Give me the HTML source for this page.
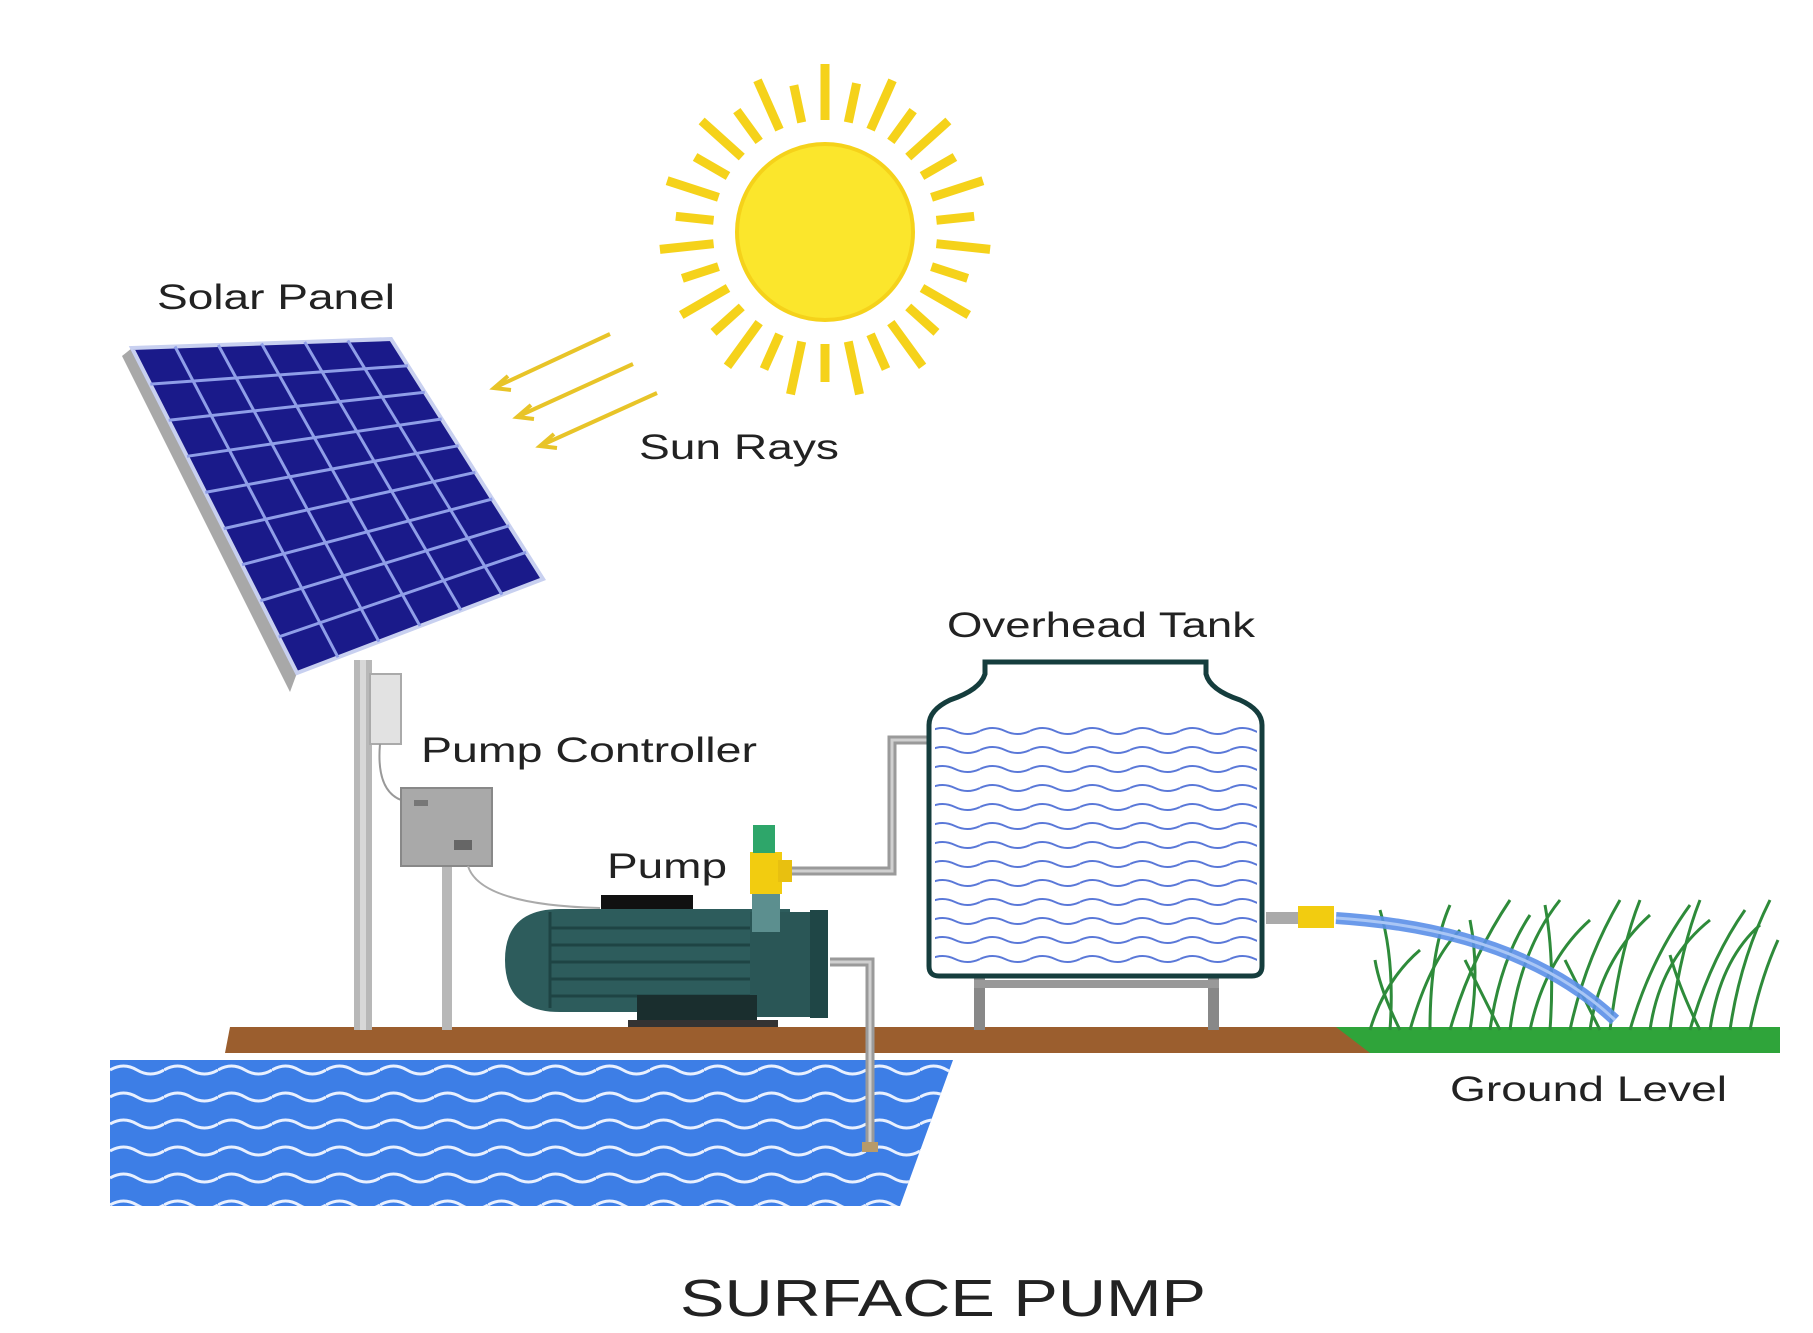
<!DOCTYPE html>
<html><head><meta charset="utf-8"><style>
html,body{margin:0;padding:0;background:#fff}
svg{display:block}
text{font-family:"Liberation Sans",sans-serif;fill:#222}
</style></head><body>
<svg width="1813" height="1333" viewBox="0 0 1813 1333" xmlns="http://www.w3.org/2000/svg">
<defs>
<pattern id="pw" width="54" height="27" patternUnits="userSpaceOnUse" x="110" y="1062">
<path d="M0 8 Q13.5 0 27 8 T54 8" fill="none" stroke="#e8f0ff" stroke-width="3"/>
</pattern>
<pattern id="tw" width="50" height="19" patternUnits="userSpaceOnUse" x="930" y="725">
<path d="M0 6 Q12.5 0 25 6 T50 6" fill="none" stroke="#5a78d8" stroke-width="2"/>
</pattern>
</defs>
<rect width="1813" height="1333" fill="#fff"/>

<!-- Ground -->
<polygon points="230,1027 1380,1027 1380,1053 225,1053" fill="#9b5e2e"/>
<polygon points="1336,1027 1780,1027 1780,1053 1370,1053" fill="#2fa43a"/>

<!-- Pond -->
<polygon points="110,1060 953,1060 900,1206 110,1206" fill="#3d7ee6"/>
<polygon points="110,1060 953,1060 900,1206 110,1206" fill="url(#pw)"/>

<!-- Sun -->
<g stroke="#f5d21a" stroke-width="9" stroke-linecap="butt">
<line x1="825" y1="120" x2="825" y2="64" transform="rotate(0 825 232)"/>
<line x1="825" y1="120" x2="825" y2="80" transform="rotate(12 825 232)"/>
<line x1="825" y1="120" x2="825" y2="66" transform="rotate(24 825 232)"/>
<line x1="825" y1="120" x2="825" y2="82" transform="rotate(36 825 232)"/>
<line x1="825" y1="120" x2="825" y2="66" transform="rotate(48 825 232)"/>
<line x1="825" y1="120" x2="825" y2="82" transform="rotate(60 825 232)"/>
<line x1="825" y1="120" x2="825" y2="66" transform="rotate(72 825 232)"/>
<line x1="825" y1="120" x2="825" y2="82" transform="rotate(84 825 232)"/>
<line x1="825" y1="120" x2="825" y2="66" transform="rotate(96 825 232)"/>
<line x1="825" y1="120" x2="825" y2="82" transform="rotate(108 825 232)"/>
<line x1="825" y1="120" x2="825" y2="66" transform="rotate(120 825 232)"/>
<line x1="825" y1="120" x2="825" y2="82" transform="rotate(132 825 232)"/>
<line x1="825" y1="120" x2="825" y2="66" transform="rotate(144 825 232)"/>
<line x1="825" y1="120" x2="825" y2="82" transform="rotate(156 825 232)"/>
<line x1="825" y1="120" x2="825" y2="66" transform="rotate(168 825 232)"/>
<line x1="825" y1="120" x2="825" y2="82" transform="rotate(180 825 232)"/>
<line x1="825" y1="120" x2="825" y2="66" transform="rotate(192 825 232)"/>
<line x1="825" y1="120" x2="825" y2="82" transform="rotate(204 825 232)"/>
<line x1="825" y1="120" x2="825" y2="66" transform="rotate(216 825 232)"/>
<line x1="825" y1="120" x2="825" y2="82" transform="rotate(228 825 232)"/>
<line x1="825" y1="120" x2="825" y2="66" transform="rotate(240 825 232)"/>
<line x1="825" y1="120" x2="825" y2="82" transform="rotate(252 825 232)"/>
<line x1="825" y1="120" x2="825" y2="66" transform="rotate(264 825 232)"/>
<line x1="825" y1="120" x2="825" y2="82" transform="rotate(276 825 232)"/>
<line x1="825" y1="120" x2="825" y2="66" transform="rotate(288 825 232)"/>
<line x1="825" y1="120" x2="825" y2="82" transform="rotate(300 825 232)"/>
<line x1="825" y1="120" x2="825" y2="66" transform="rotate(312 825 232)"/>
<line x1="825" y1="120" x2="825" y2="82" transform="rotate(324 825 232)"/>
<line x1="825" y1="120" x2="825" y2="66" transform="rotate(336 825 232)"/>
<line x1="825" y1="120" x2="825" y2="82" transform="rotate(348 825 232)"/>
</g>
<circle cx="825" cy="232" r="88" fill="#fbe62c"/>
<circle cx="825" cy="232" r="88" fill="none" stroke="#f5d21a" stroke-width="4"/>

<!-- sun rays arrows -->
<g stroke="#e8c428" stroke-width="4" fill="none">
<line x1="610" y1="334" x2="496" y2="387"/><polyline points="508,376 494,388 511,390"/>
<line x1="633" y1="364" x2="519" y2="416"/><polyline points="531,405 517,417 534,419"/>
<line x1="657" y1="393" x2="542" y2="445"/><polyline points="554,434 540,446 557,448"/>
</g>

<!-- Pole -->
<rect x="354" y="660" width="18" height="370" fill="#b8b8b8"/>
<rect x="360" y="660" width="6" height="370" fill="#d8d8d8"/>
<rect x="370" y="674" width="31" height="70" fill="#e2e2e2" stroke="#aaa" stroke-width="2"/>
<path d="M380 744 Q376 790 401 800" stroke="#999" stroke-width="2" fill="none"/>

<!-- Solar panel -->
<polygon points="122,356 132,348 297,673 290,692" fill="#a8a8a8"/>
<polygon points="132,348 391,339 543,579 297,673" fill="#1a1a8a" stroke="#c8d0f0" stroke-width="4"/>
<g stroke="#8f9ee8" stroke-width="3">
<line x1="175" y1="346.5" x2="338" y2="657.3"/>
<line x1="218.3" y1="345" x2="379" y2="641.7"/>
<line x1="261.5" y1="343.5" x2="420" y2="626"/>
<line x1="304.7" y1="342" x2="461" y2="610.3"/>
<line x1="347.8" y1="340.5" x2="502" y2="594.7"/>
<line x1="150.3" y1="384.1" x2="407.9" y2="365.7"/>
<line x1="168.7" y1="420.2" x2="424.8" y2="392.3"/>
<line x1="187" y1="456.3" x2="441.7" y2="419"/>
<line x1="205.3" y1="492.4" x2="458.6" y2="445.7"/>
<line x1="223.7" y1="528.6" x2="475.4" y2="472.3"/>
<line x1="242" y1="564.7" x2="492.3" y2="499"/>
<line x1="260.3" y1="600.8" x2="509.2" y2="525.7"/>
<line x1="278.7" y1="636.9" x2="526.1" y2="552.3"/>
</g>

<!-- Controller -->
<rect x="442" y="866" width="10" height="164" fill="#b8b8b8"/>
<rect x="401" y="788" width="91" height="78" fill="#a9a9a9" stroke="#888" stroke-width="2"/>
<rect x="414" y="800" width="14" height="6" fill="#777"/>
<rect x="454" y="840" width="18" height="10" fill="#666"/>
<path d="M468 866 Q480 905 600 908" stroke="#aaa" stroke-width="2" fill="none"/>

<!-- Pipes -->
<path d="M780 871 H892 V740 H930" stroke="#9a9a9a" stroke-width="9" fill="none"/>
<path d="M780 871 H892 V740 H930" stroke="#d0d0d0" stroke-width="3" fill="none"/>
<path d="M830 962 H870 V1148" stroke="#9a9a9a" stroke-width="9" fill="none"/>
<path d="M830 962 H870 V1148" stroke="#d0d0d0" stroke-width="3" fill="none"/>
<rect x="862" y="1142" width="16" height="10" fill="#b79a6a"/>

<!-- Pump motor -->
<rect x="601" y="895" width="92" height="16" fill="#111"/>
<path d="M560 909 H790 V1012 H560 Q505 1012 505 960 Q505 909 560 909 Z" fill="#2d5c5c"/>
<g stroke="#1e4444" stroke-width="3">
<line x1="550" y1="928" x2="750" y2="928"/><line x1="550" y1="945" x2="750" y2="945"/>
<line x1="550" y1="962" x2="750" y2="962"/><line x1="550" y1="979" x2="750" y2="979"/>
<line x1="550" y1="996" x2="750" y2="996"/><line x1="550" y1="912" x2="550" y2="1008"/>
</g>
<rect x="750" y="912" width="70" height="105" fill="#2a5656"/>
<rect x="810" y="910" width="18" height="108" fill="#1f4646"/>
<rect x="637" y="995" width="120" height="30" fill="#1a2e2e"/>
<rect x="628" y="1020" width="150" height="7" fill="#333"/>
<rect x="752" y="892" width="28" height="40" fill="#5c8f8f"/>
<rect x="750" y="852" width="32" height="42" fill="#f2cc10"/>
<rect x="778" y="860" width="14" height="22" fill="#e8c010"/>
<rect x="753" y="825" width="22" height="28" fill="#2ea66a"/>

<!-- Tank -->
<rect x="974" y="976" width="11" height="54" fill="#888"/>
<rect x="1208" y="976" width="11" height="54" fill="#888"/>
<rect x="974" y="980" width="245" height="8" fill="#999"/>
<path d="M985 662 H1206 V674 Q1210 690 1240 700 Q1262 710 1262 725 V966 Q1262 976 1252 976 H939 Q929 976 929 966 V725 Q929 710 950 700 Q980 690 985 674 Z" fill="#fff" stroke="#153d3d" stroke-width="5"/>
<rect x="935" y="722" width="322" height="250" fill="url(#tw)"/>

<!-- Outlet -->
<rect x="1266" y="912" width="44" height="12" fill="#aaa"/>
<rect x="1298" y="906" width="36" height="22" fill="#f2cc10"/>

<!-- Grass -->
<g stroke="#2e8b3a" stroke-width="3" fill="none">
<path d="M1370 1030 Q1385 980 1420 950"/><path d="M1390 1030 Q1395 960 1380 910"/>
<path d="M1410 1030 Q1430 960 1460 930"/><path d="M1430 1030 Q1430 950 1450 905"/>
<path d="M1450 1030 Q1470 960 1510 900"/><path d="M1470 1030 Q1480 970 1470 920"/>
<path d="M1490 1030 Q1500 960 1530 915"/><path d="M1510 1030 Q1520 950 1560 900"/>
<path d="M1530 1030 Q1545 960 1590 920"/><path d="M1550 1030 Q1555 960 1545 905"/>
<path d="M1570 1030 Q1585 960 1620 900"/><path d="M1590 1030 Q1600 960 1650 915"/>
<path d="M1610 1030 Q1620 950 1640 900"/><path d="M1630 1030 Q1650 960 1690 905"/>
<path d="M1650 1030 Q1660 960 1710 920"/><path d="M1670 1030 Q1680 950 1700 900"/>
<path d="M1690 1030 Q1710 960 1745 910"/><path d="M1710 1030 Q1720 960 1760 925"/>
<path d="M1730 1030 Q1740 960 1770 900"/><path d="M1750 1030 Q1760 980 1778 940"/>
<path d="M1400 1030 Q1380 990 1375 960"/><path d="M1500 1030 Q1480 990 1465 960"/>
<path d="M1600 1030 Q1580 990 1565 960"/><path d="M1700 1030 Q1680 990 1670 955"/>
</g>
<path d="M1336 918 Q1520 930 1615 1020" stroke="#5b8fe8" stroke-width="12" fill="none" opacity="0.9"/>
<path d="M1336 918 Q1520 930 1615 1020" stroke="#a9c6f5" stroke-width="3" fill="none"/>

<!-- Labels -->
<text x="157" y="309" font-size="35" textLength="238" lengthAdjust="spacingAndGlyphs">Solar Panel</text>
<text x="639" y="459" font-size="35" textLength="200" lengthAdjust="spacingAndGlyphs">Sun Rays</text>
<text x="947" y="637" font-size="35" textLength="308" lengthAdjust="spacingAndGlyphs">Overhead Tank</text>
<text x="421" y="762" font-size="35" textLength="336" lengthAdjust="spacingAndGlyphs">Pump Controller</text>
<text x="607" y="878" font-size="35" textLength="120" lengthAdjust="spacingAndGlyphs">Pump</text>
<text x="1450" y="1101" font-size="35" textLength="277" lengthAdjust="spacingAndGlyphs">Ground Level</text>
<text x="680" y="1316" font-size="52" textLength="526" lengthAdjust="spacingAndGlyphs">SURFACE PUMP</text>
</svg>
</body></html>
